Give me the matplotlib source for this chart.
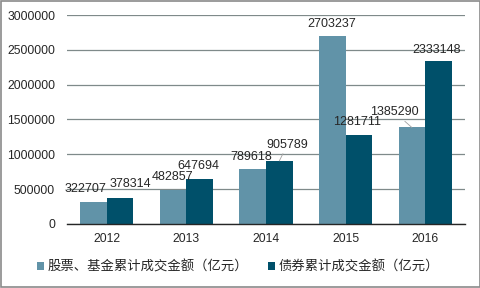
import numpy as np
import matplotlib.pyplot as plt
from matplotlib.patches import Rectangle

plt.rcParams['font.family'] = ['Liberation Sans', 'Noto Sans CJK SC', 'DejaVu Sans']

years = ['2012', '2013', '2014', '2015', '2016']
stock_fund = [322707, 482857, 789618, 2703237, 1385290]
bonds = [378314, 647694, 905789, 1281711, 2333148]
series_names = ['股票、基金累计成交金额（亿元）', '债券累计成交金额（亿元）']

# label offsets in pixels (dx, dy) relative to bar top
off_a = [(-8, 13), (-1, 13), (-1, 12), (-1, 12), (-17, 15)]
off_b = [(10, 14), (-1, 13), (8, 16), (-2, 13), (-2, 11)]
lead_a = [False, False, False, False, True]
lead_b = [False, False, True, False, False]

c_light = '#6193a8'
c_dark = '#00506a'

fig = plt.figure(figsize=(4.81, 2.88), dpi=100)
ax = fig.add_axes([67/481, 1-224/288, 398/481, 209/288])

x = np.arange(len(years))
w = 0.335
b1 = ax.bar(x - w/2, stock_fund, w, color=c_light, label=series_names[0], zorder=2)
b2 = ax.bar(x + w/2, bonds, w, color=c_dark, label=series_names[1], zorder=2)

for bars, vals, offs, leads in [(b1, stock_fund, off_a, lead_a), (b2, bonds, off_b, lead_b)]:
    for r, v, (dx, dy), ld in zip(bars, vals, offs, leads):
        xc = r.get_x() + r.get_width()/2
        kw = {}
        if ld:
            kw['arrowprops'] = dict(arrowstyle='-', color='#a0a0a0', lw=0.6, shrinkA=0, shrinkB=0)
        ax.annotate(str(v), xy=(xc, v), xytext=(dx, dy), textcoords='offset pixels',
                    ha='center', va='center', fontsize=9, color='#262626', zorder=3, **kw)

ax.set_xlim(-0.5, 4.5)
ax.set_ylim(0, 3000000)
ax.set_yticks(np.arange(0, 3000001, 500000))
ax.set_yticklabels([str(int(t)) for t in ax.get_yticks()], fontsize=8.7, color='#262626')
ax.set_xticks(x)
ax.set_xticklabels(years, fontsize=8.7, color='#262626')
ax.tick_params(length=0, pad=6.5)
ax.tick_params(axis='y', pad=8.6)
ax.grid(axis='y', color='#7f8a8a', lw=0.9, zorder=0)
for s in ['top', 'right', 'left']:
    ax.spines[s].set_visible(False)
ax.spines['bottom'].set_color('#262626')
ax.spines['bottom'].set_linewidth(1)

leg = fig.legend(loc='center', bbox_to_anchor=(0.495, 1-267/288), ncol=2, frameon=False,
                 handlelength=0.55, handleheight=0.55, handletextpad=0.25, columnspacing=1.5,
                 prop={'family': ['Noto Sans CJK SC', 'DejaVu Sans'], 'size': 9.6})
for t in leg.get_texts():
    t.set_color('#262626')

fig.patches.append(Rectangle((0.002, 0.003), 0.995, 0.994, transform=fig.transFigure,
                             fill=False, edgecolor='#8a8a8a', lw=1.2))

fig.savefig('out.png', dpi=100)
